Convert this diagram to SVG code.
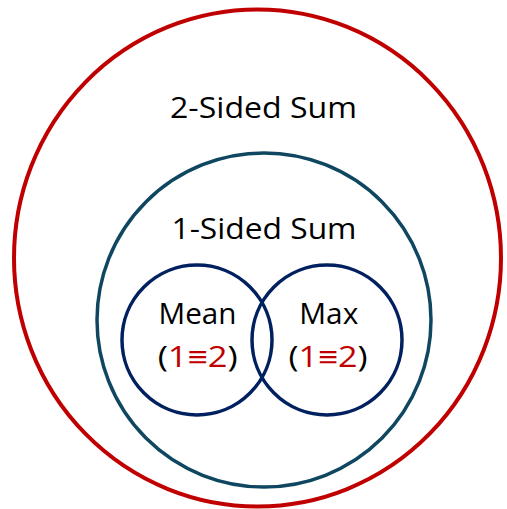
<svg xmlns="http://www.w3.org/2000/svg" width="507" height="509" viewBox="0 0 507 509">
<style>
.lbl{font-family:"Open Sans","Noto Sans","Liberation Sans",sans-serif;font-size:29.5px;fill:#000;text-anchor:middle}
.red{fill:#C00000}
.ring{fill:none}
</style>
<rect width="507" height="509" fill="#fff"/>
<g id="two-sided">
<ellipse class="ring" cx="257.5" cy="258" rx="243.5" ry="248.5" stroke="#C00000" stroke-width="4"/>
<text class="lbl" x="263.5" y="118" textLength="187" lengthAdjust="spacingAndGlyphs">2-Sided Sum</text>
</g>
<g id="one-sided">
<circle class="ring" cx="264" cy="320" r="167" stroke="#0F4761" stroke-width="3.5"/>
<text class="lbl" x="264" y="238.5" textLength="185" lengthAdjust="spacingAndGlyphs">1-Sided Sum</text>
</g>
<g id="mean">
<circle class="ring" cx="197" cy="340" r="75" stroke="#002060" stroke-width="3.5"/>
<text class="lbl" x="197.5" y="323.5" textLength="78" lengthAdjust="spacingAndGlyphs">Mean</text>
<text class="lbl" x="197.7" y="366.5" textLength="80" lengthAdjust="spacingAndGlyphs">(<tspan class="red">1≡2</tspan>)</text>
</g>
<g id="max">
<circle class="ring" cx="327" cy="340" r="75" stroke="#002060" stroke-width="3.5"/>
<text class="lbl" x="328.8" y="323.5" textLength="59" lengthAdjust="spacingAndGlyphs">Max</text>
<text class="lbl" x="328" y="366.5" textLength="79" lengthAdjust="spacingAndGlyphs">(<tspan class="red">1≡2</tspan>)</text>
</g>
<g id="connectors"/>
</svg>
